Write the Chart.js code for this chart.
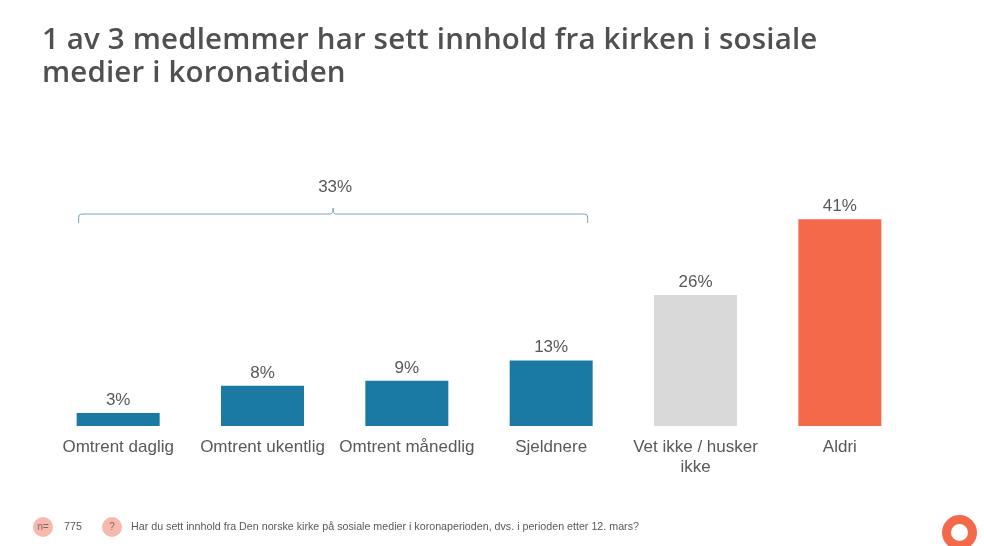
<!DOCTYPE html>
<html>
<head>
<meta charset="UTF-8">
<title>Sosiale medier i koronatiden</title>
<style>
html, body { margin: 0; padding: 0; background: #fff; }
body { width: 984px; height: 546px; overflow: hidden; position: relative; font-family: "Liberation Sans", sans-serif; color: #595959; }
#wrap { position: absolute; left: 0; top: 0; width: 984px; height: 546px; }
h1 { position: absolute; left: 42px; top: 21px; margin: 0; font: 600 29.5px/33px "Open Sans", sans-serif; letter-spacing: 0.16px; color: #505050; width: 900px; }
.badge { position: absolute; top: 517px; width: 20px; height: 20px; border-radius: 50%; background: #F7B9AB; font-size: 10px; line-height: 20px; text-align: center; color: #7a6a66; }
.note { position: absolute; top: 520px; font-size: 10.7px; line-height: 13px; color: #595959; white-space: nowrap; }
#ring { position: absolute; left: 942px; top: 515px; width: 17px; height: 17px; border: 9px solid #F4694A; border-radius: 50%; }
</style>
</head>
<body>
<div id="wrap"><canvas id="chart" width="984" height="546"></canvas></div>
<h1>1 av 3 medlemmer har sett innhold fra kirken i sosiale<br>medier i koronatiden</h1>
<div class="badge" style="left:33px">n=</div>
<div class="note" style="left:64px">775</div>
<div class="badge" style="left:102px">?</div>
<div class="note" style="left:131px">Har du sett innhold fra Den norske kirke på sosiale medier i koronaperioden, dvs. i perioden etter 12. mars?</div>
<div id="ring"></div>

<script src="https://cdn.jsdelivr.net/npm/chart.js@4"></script>
<script>
const categories = ['Omtrent daglig', 'Omtrent ukentlig', 'Omtrent månedlig', 'Sjeldnere', ['Vet ikke / husker', 'ikke'], 'Aldri'];
const values = [2.6, 8, 9, 13, 26, 41];
const shownValues = ['3%', '8%', '9%', '13%', '26%', '41%'];
const barColors = ['#1B7AA3', '#1B7AA3', '#1B7AA3', '#1B7AA3', '#D9D9D9', '#F4694A'];
const bracketLabel = '33%';
const bracketFrom = 0;
const bracketTo = 3;

// value labels above the bars
const valueLabels = {
  id: 'valueLabels',
  afterDatasetsDraw(chart) {
    const ctx = chart.ctx;
    const meta = chart.getDatasetMeta(0);
    ctx.save();
    ctx.font = '17px "Liberation Sans"';
    ctx.fillStyle = '#595959';
    ctx.textAlign = 'center';
    ctx.textBaseline = 'alphabetic';
    meta.data.forEach((bar, i) => {
      ctx.fillText(shownValues[i], bar.x, bar.y - 8);
    });
    ctx.restore();
  }
};

// bracket over the first four bars
const bracket = {
  id: 'bracket',
  afterDraw(chart) {
    const ctx = chart.ctx;
    const x = chart.scales.x;
    const bar = chart.getDatasetMeta(0).data[0];
    const left = x.getPixelForValue(bracketFrom) - bar.width / 2 + 2;
    const right = x.getPixelForValue(bracketTo) + bar.width / 2 - 5;
    const mid = (left + right) / 2;
    const y = 214;
    ctx.save();
    ctx.strokeStyle = '#7FA3B8';
    ctx.lineWidth = 1;
    ctx.beginPath();
    ctx.moveTo(left, y + 9);
    ctx.lineTo(left, y + 3);
    ctx.quadraticCurveTo(left, y, left + 3, y);
    ctx.lineTo(mid - 2, y);
    ctx.quadraticCurveTo(mid, y, mid, y - 6);
    ctx.quadraticCurveTo(mid, y, mid + 2, y);
    ctx.lineTo(right - 3, y);
    ctx.quadraticCurveTo(right, y, right, y + 3);
    ctx.lineTo(right, y + 9);
    ctx.stroke();
    ctx.font = '17px "Liberation Sans"';
    ctx.fillStyle = '#595959';
    ctx.textAlign = 'center';
    ctx.fillText(bracketLabel, mid + 2, 192);
    ctx.restore();
  }
};

new Chart(document.getElementById('chart'), {
  type: 'bar',
  data: {
    labels: categories,
    datasets: [{
      data: values,
      backgroundColor: barColors,
      barPercentage: 1,
      categoryPercentage: 0.575
    }]
  },
  options: {
    responsive: false,
    animation: false,
    layout: { padding: { left: 46, right: 72, top: 174, bottom: 60 } },
    plugins: { legend: { display: false }, title: { display: false }, tooltip: { enabled: false } },
    scales: {
      y: { display: false, min: 0, max: 50 },
      x: {
        grid: { display: false },
        border: { display: false },
        afterFit(scale) { scale.height = 60; },
        ticks: {
          color: '#595959',
          font: { family: '"Liberation Sans"', size: 17 },
          padding: 3,
          maxRotation: 0,
          autoSkip: false
        }
      }
    }
  },
  plugins: [valueLabels, bracket]
});
</script>
</body>
</html>
